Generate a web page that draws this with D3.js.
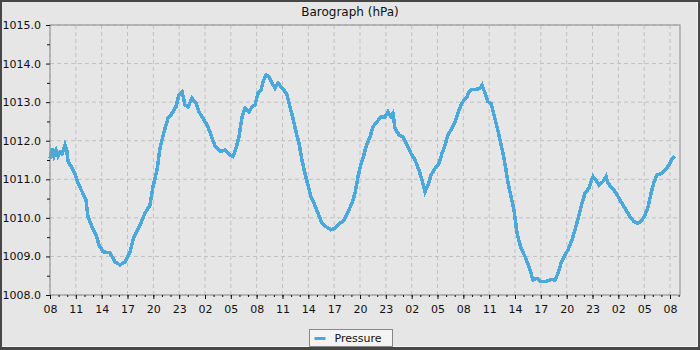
<html>
<head>
<style>
  body { margin: 0; background: #fff; }
  text { font-family: "DejaVu Sans", sans-serif; }
</style>
</head>
<body>
<svg width="700" height="350"></svg>
<script src="https://d3js.org/d3.v7.min.js"></script>
<script>
// hours since the first reading (08:00), pressure in hPa
var hours = [0, 0.23, 0.46, 0.7, 0.93, 1.16, 1.4, 1.51, 1.74, 1.95, 2.09, 2.55, 2.9, 3.25, 3.72, 4.18, 4.41, 4.88, 5.34, 5.69,
  6.15, 6.97, 7.55, 8.13, 8.71, 9.29, 9.75, 10.45, 11.03, 11.61, 11.96, 12.43, 12.77, 13.24, 13.7, 14.17, 14.63, 14.98, 15.33,
  15.68, 16.03, 16.49, 16.96, 17.3, 17.77, 18.23, 18.7, 19.16, 19.74, 20.32, 20.9, 21.25, 21.6, 21.95, 22.3, 22.65, 23.11,
  23.46, 23.81, 24.16, 24.5, 24.74, 25.08, 25.43, 25.78, 26.13, 26.48, 26.83, 27.17, 27.52, 27.87, 28.22, 28.57, 28.92,
  29.26, 29.61, 29.96, 30.31, 30.66, 31.12, 31.59, 32.05, 32.63, 33.1, 33.68, 34.14, 34.61, 35.07, 35.42, 35.77, 36.12,
  36.35, 36.7, 37.16, 37.51, 37.97, 38.44, 38.9, 39.25, 39.6, 39.83, 40.06, 40.53, 40.99, 41.46, 41.92, 42.39, 42.85,
  43.2, 43.55, 43.9, 44.25, 44.71, 45.17, 45.52, 45.87, 46.22, 46.68, 47.03, 47.38, 47.73, 48.08, 48.43, 48.66, 49.01,
  49.47, 49.94, 50.17, 50.52, 50.86, 51.21, 51.56, 51.91, 52.26, 52.61, 52.96, 53.19, 53.54, 53.89, 54.23, 54.7, 55.16,
  55.63, 56.09, 56.56, 57.02, 57.6, 58.18, 58.65, 58.99, 59.34, 59.81, 60.15, 60.62, 60.97, 61.43, 61.78, 62.13, 62.59,
  63.06, 63.41, 63.76, 64.22, 64.57, 64.8, 65.27, 65.62, 65.97, 66.31, 66.66, 67.01, 67.36, 67.82, 68.29, 68.75, 69.1,
  69.45, 69.8, 70.16, 70.5, 70.97, 71.43, 71.89, 72.24, 72.59];

var pressure = [1011.54, 1011.8, 1011.6, 1011.75, 1011.6, 1011.7, 1011.66, 1011.72, 1011.89, 1011.75, 1011.46, 1011.3, 1011.15,
  1010.9, 1010.68, 1010.46, 1010.03, 1009.77, 1009.56, 1009.3, 1009.12, 1009.09, 1008.86, 1008.78, 1008.86, 1009.12,
  1009.51, 1009.81, 1010.12, 1010.33, 1010.81, 1011.24, 1011.8, 1012.23, 1012.58, 1012.71, 1012.88, 1013.19, 1013.27,
  1012.93, 1012.88, 1013.1, 1012.97, 1012.75, 1012.58, 1012.41, 1012.15, 1011.86, 1011.72, 1011.76, 1011.63, 1011.59,
  1011.8, 1012.1, 1012.62, 1012.84, 1012.75, 1012.88, 1012.93, 1013.23, 1013.31, 1013.53, 1013.7, 1013.66, 1013.49,
  1013.36, 1013.49, 1013.4, 1013.31, 1013.19, 1012.88, 1012.58, 1012.23, 1011.93, 1011.5, 1011.15, 1010.85, 1010.55,
  1010.38, 1010.12, 1009.86, 1009.77, 1009.69, 1009.73, 1009.86, 1009.94, 1010.16, 1010.38, 1010.64, 1011.07, 1011.41,
  1011.54, 1011.85, 1012.1, 1012.36, 1012.49, 1012.62, 1012.62, 1012.75, 1012.62, 1012.71, 1012.32, 1012.15, 1012.1,
  1011.89, 1011.67, 1011.5, 1011.24, 1010.98, 1010.68, 1010.85, 1011.11, 1011.28, 1011.41, 1011.67, 1011.89, 1012.15,
  1012.32, 1012.49, 1012.71, 1012.93, 1013.06, 1013.14, 1013.27, 1013.33, 1013.33, 1013.36, 1013.44, 1013.23, 1013.01,
  1012.97, 1012.67, 1012.36, 1012.02, 1011.67, 1011.24, 1010.9, 1010.55, 1010.2, 1009.6, 1009.21, 1009.0, 1008.73,
  1008.39, 1008.43, 1008.35, 1008.35, 1008.4, 1008.39, 1008.56, 1008.82, 1009.04, 1009.17, 1009.43, 1009.69, 1010.07,
  1010.38, 1010.64, 1010.77, 1011.07, 1010.98, 1010.85, 1010.94, 1011.07, 1010.9, 1010.77, 1010.68, 1010.55, 1010.42,
  1010.29, 1010.16, 1010.03, 1009.9, 1009.86, 1009.94, 1010.07, 1010.29, 1010.64, 1010.94, 1011.11, 1011.15, 1011.24,
  1011.37, 1011.54, 1011.59];

var startHour = 8;
var xTicks = d3.range(0, 73, 3);
var yTicks = d3.range(1008, 1015.5, 1);

var data = hours.map(function(h, i) { return { h: h, p: pressure[i] }; });

var margin = { top: 25, right: 20, bottom: 55, left: 50 };
var W = 700, H = 350;
var width = W - margin.left - margin.right;
var height = H - margin.top - margin.bottom;

var svg = d3.select("svg");

// outer frame
svg.append("rect").attr("width", W).attr("height", H).attr("fill", "#474747");
svg.append("rect").attr("x", 2).attr("y", 2).attr("width", W - 4).attr("height", H - 5).attr("fill", "#f4f4f4");
svg.append("rect").attr("x", 2).attr("y", 2).attr("width", W - 5).attr("height", H - 6).attr("fill", "#e6e6e6");

svg.append("text")
  .attr("x", W / 2).attr("y", 16)
  .attr("text-anchor", "middle")
  .attr("font-size", 12)
  .attr("fill", "#111")
  .text("Barograph (hPa)");

var g = svg.append("g").attr("transform", "translate(" + margin.left + "," + margin.top + ")");

var x = d3.scaleLinear().domain([0, 73.16]).range([0, width]);
var y = d3.scaleLinear().domain([1008, 1015]).range([height, 0]);

// grid
g.append("g").selectAll("line").data(xTicks).enter().append("line")
  .attr("x1", function(d) { return x(d); }).attr("x2", function(d) { return x(d); })
  .attr("y1", 0).attr("y2", height)
  .attr("stroke", "#c0c0c0").attr("stroke-dasharray", "4,3");
g.append("g").selectAll("line").data(yTicks).enter().append("line")
  .attr("x1", 0).attr("x2", width)
  .attr("y1", function(d) { return y(d); }).attr("y2", function(d) { return y(d); })
  .attr("stroke", "#c0c0c0").attr("stroke-dasharray", "4,3");

// pressure trace
var line = d3.line()
  .x(function(d) { return x(d.h); })
  .y(function(d) { return y(d.p); });

g.append("path").datum(data)
  .attr("fill", "none")
  .attr("stroke", "#4aa8da")
  .attr("stroke-width", 3.5)
  .attr("shape-rendering", "crispEdges")
  .attr("d", line);

// plot frame
g.append("rect").attr("x", 0).attr("y", 0).attr("width", width).attr("height", height)
  .attr("fill", "none").attr("stroke", "#999").attr("stroke-width", 1.2);

// minor ticks
var xMinor = d3.axisBottom(x).tickValues(d3.range(0, 74, 1)).tickSize(2).tickFormat("");
var yMinor = d3.axisLeft(y).tickValues(d3.range(1008.5, 1015, 1)).tickSize(3).tickFormat("");
g.append("g").attr("transform", "translate(0," + height + ")").call(xMinor).call(function(s) { s.select(".domain").remove(); });
g.append("g").call(yMinor).call(function(s) { s.select(".domain").remove(); });

// major axes
var xAxis = d3.axisBottom(x).tickValues(xTicks).tickSize(4).tickPadding(6)
  .tickFormat(function(d) { return d3.format("02d")((startHour + d) % 24); });
var yAxis = d3.axisLeft(y).tickValues(yTicks).tickSize(4).tickPadding(5).tickFormat(d3.format(".1f"));

g.append("g").attr("transform", "translate(0," + height + ")").call(xAxis)
  .call(function(s) { s.select(".domain").remove(); });
g.append("g").call(yAxis)
  .call(function(s) { s.select(".domain").remove(); });

g.selectAll(".tick text").attr("font-family", "DejaVu Sans").attr("font-size", 11).attr("fill", "#111");
g.selectAll(".tick line").attr("stroke", "#111");

// legend
var lg = svg.append("g").attr("transform", "translate(309.5,329.5)");
lg.append("rect").attr("width", 83).attr("height", 17)
  .attr("fill", "#f4f4f4").attr("stroke", "#888");
lg.append("line").attr("x1", 5).attr("x2", 16).attr("y1", 9).attr("y2", 9)
  .attr("stroke", "#4aa8da").attr("stroke-width", 3);
lg.append("text").attr("x", 25).attr("y", 12.5)
  .attr("font-size", 11).attr("fill", "#111").text("Pressure");
</script>
</body>
</html>
